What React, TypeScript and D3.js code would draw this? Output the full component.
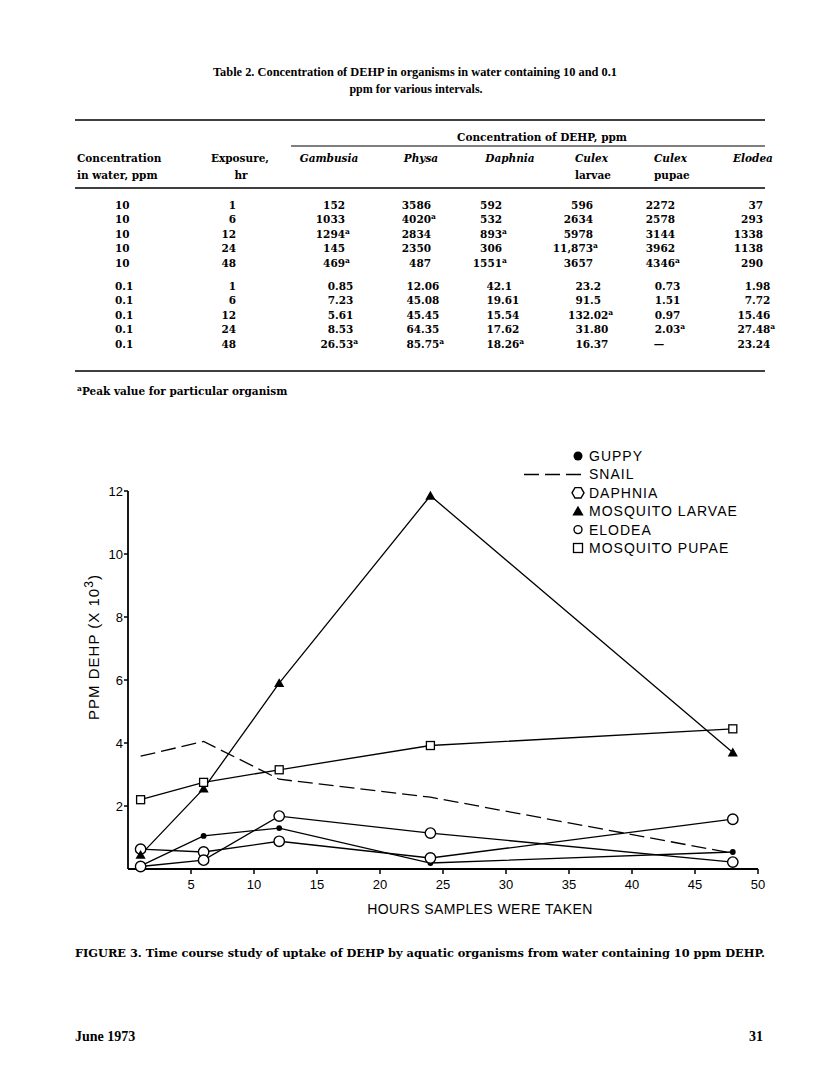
import React from "react";
import * as d3 from "d3";

// ---------------- Table data ----------------
const titleLine1 = "Table 2.  Concentration of DEHP in organisms in water containing 10 and 0.1";
const titleLine2 = "ppm for various intervals.";
const spanHeader = "Concentration of DEHP, ppm";
const leftHeads1 = ["Concentration", "Exposure,"];
const leftHeads2 = ["in water, ppm", "hr"];
const organismHeads1 = ["Gambusia", "Physa", "Daphnia", "Culex", "Culex", "Elodea"];
const organismHeads2 = ["", "", "", "larvae", "pupae", ""];
const waterConc = ["10", "0.1"];
const exposureHr = ["1", "6", "12", "24", "48"];
const gambusia10 = ["152", "1033", "1294a", "145", "469a"];
const physa10 = ["3586", "4020a", "2834", "2350", "487"];
const daphnia10 = ["592", "532", "893a", "306", "1551a"];
const culexLarvae10 = ["596", "2634", "5978", "11,873a", "3657"];
const culexPupae10 = ["2272", "2578", "3144", "3962", "4346a"];
const elodea10 = ["37", "293", "1338", "1138", "290"];
const gambusia01 = ["0.85", "7.23", "5.61", "8.53", "26.53a"];
const physa01 = ["12.06", "45.08", "45.45", "64.35", "85.75a"];
const daphnia01 = ["42.1", "19.61", "15.54", "17.62", "18.26a"];
const culexLarvae01 = ["23.2", "91.5", "132.02a", "31.80", "16.37"];
const culexPupae01 = ["0.73", "1.51", "0.97", "2.03a", "—"];
const elodea01 = ["1.98", "7.72", "15.46", "27.48a", "23.24"];
const footnoteText = "Peak value for particular organism";

// ---------------- Chart data (thousands of ppm) ----------------
const hours = [1, 6, 12, 24, 48];
const guppy = [0.1, 1.05, 1.3, 0.19, 0.54];
const snail = [3.58, 4.05, 2.85, 2.28, 0.5];
const daphnia = [0.63, 0.54, 0.88, 0.35, 1.58];
const mosquitoLarvae = [0.45, 2.55, 5.9, 11.85, 3.7];
const elodea = [0.08, 0.28, 1.68, 1.14, 0.22];
const mosquitoPupae = [2.2, 2.75, 3.15, 3.92, 4.45];
const xTickValues = [5, 10, 15, 20, 25, 30, 35, 40, 45, 50];
const yTickValues = [2, 4, 6, 8, 10, 12];
const legendLabels = ["GUPPY", "SNAIL", "DAPHNIA", "MOSQUITO LARVAE", "ELODEA", "MOSQUITO PUPAE"];
const xTitle = "HOURS SAMPLES WERE TAKEN";
const yTitle = "PPM DEHP (X 10";
const caption = "FIGURE 3. Time course study of uptake of DEHP by aquatic organisms from water containing 10 ppm DEHP.";
const footerLeft = "June 1973";
const footerRight = "31";

const serif = "'DejaVu Serif', serif";
const times = "'Liberation Serif', serif";
const sans = "'Liberation Sans', Arial, sans-serif";

function NumCell({ x, y, v }: { x: number; y: number; v: string }) {
  const sup = v.endsWith("a");
  const s = sup ? v.slice(0, -1) : v;
  if (s === "—") {
    return (
      <text x={x - 3} y={y} textAnchor="middle">
        —
      </text>
    );
  }
  const i = s.indexOf(".");
  const left = i >= 0 ? s.slice(0, i) : s;
  const right = i >= 0 ? s.slice(i) : "";
  return (
    <g>
      <text x={x} y={y} textAnchor="end">
        {left}
      </text>
      <text x={x} y={y}>
        {right}
        {sup && (
          <tspan fontSize={7.5} dy={-4}>
            a
          </tspan>
        )}
      </text>
    </g>
  );
}

function Marker({ kind, cx, cy, legend }: { kind: string; cx: number; cy: number; legend?: boolean }) {
  if (kind === "dot") return <circle cx={cx} cy={cy} r={legend ? 4.5 : 2.9} fill="#000" />;
  if (kind === "circle")
    return <circle cx={cx} cy={cy} r={legend ? 4 : 5.2} fill="#fff" stroke="#000" strokeWidth={1.4} />;
  if (kind === "hex") {
    const r = legend ? 6 : 5.2;
    if (!legend) return <circle cx={cx} cy={cy} r={r} fill="#fff" stroke="#000" strokeWidth={1.4} />;
    const pts = d3.range(6).map((k) => {
      const a = (Math.PI / 3) * k;
      return [cx + r * Math.cos(a), cy + r * Math.sin(a)];
    });
    return <polygon points={pts.map((p) => p.join(",")).join(" ")} fill="#fff" stroke="#000" strokeWidth={1.4} />;
  }
  if (kind === "tri") {
    const p = d3.symbol(d3.symbolTriangle, legend ? 55 : 45)();
    return <path d={p || ""} transform={`translate(${cx},${cy + 1})`} fill="#000" />;
  }
  if (kind === "square") {
    const s = legend ? 9 : 8;
    return <rect x={cx - s / 2} y={cy - s / 2} width={s} height={s} fill="#fff" stroke="#000" strokeWidth={1.3} />;
  }
  return null;
}

export default function App() {
  // ---------- table layout ----------
  const tableLeft = 75;
  const tableRight = 765;
  const decX10 = [345, 431, 502, 593, 675, 763];
  const decX01 = [335, 421, 501, 590, 662, 752];
  const headCenters = [329, 421, 510, 575, 654, 753];
  const headAnchors = ["middle", "middle", "middle", "start", "start", "middle"];
  const cols10 = [gambusia10, physa10, daphnia10, culexLarvae10, culexPupae10, elodea10];
  const cols01 = [gambusia01, physa01, daphnia01, culexLarvae01, culexPupae01, elodea01];
  const rowStep = 14.4;
  const block10Y = 209;
  const block01Y = 290;

  // ---------- chart ----------
  const x = d3.scaleLinear().domain([0, 50]).range([128, 758]);
  const y = d3.scaleLinear().domain([0, 12]).range([869, 491]);
  const series = [
    { name: legendLabels[0], values: guppy, marker: "dot", dash: "" },
    { name: legendLabels[1], values: snail, marker: "none", dash: "15,6" },
    { name: legendLabels[2], values: daphnia, marker: "hex", dash: "" },
    { name: legendLabels[3], values: mosquitoLarvae, marker: "tri", dash: "" },
    { name: legendLabels[4], values: elodea, marker: "circle", dash: "" },
    { name: legendLabels[5], values: mosquitoPupae, marker: "square", dash: "" },
  ];
  const line = d3
    .line<number>()
    .x((_, i) => x(hours[i]))
    .y((d) => y(d));

  const legendX = 578;
  const legendY0 = 456;
  const legendStep = 18.4;

  return (
    <svg
      width={816}
      height={1092}
      style={{ position: "absolute", left: 0, top: 0, background: "#fff" }}
      xmlns="http://www.w3.org/2000/svg"
    >
      <rect x={0} y={0} width={816} height={1092} fill="#fff" />
      {/* ---------- Table ---------- */}
      <g fontFamily={times} fontWeight="bold" fontSize={12} fill="#000">
        <text x={415} y={76} textAnchor="middle" textLength={404} lengthAdjust="spacingAndGlyphs">
          {titleLine1}
        </text>
        <text x={416} y={93} textAnchor="middle">
          {titleLine2}
        </text>
      </g>
      <g stroke="#000">
        <line x1={tableLeft} x2={tableRight} y1={120} y2={120} strokeWidth={1.6} />
        <line x1={291} x2={tableRight} y1={146} y2={146} strokeWidth={1} />
        <line x1={tableLeft} x2={tableRight} y1={188} y2={188} strokeWidth={1.6} />
        <line x1={tableLeft} x2={tableRight} y1={371} y2={371} strokeWidth={1.6} />
      </g>
      <g fontFamily={serif} fontWeight="bold" fontSize={10.5} fill="#000">
        <text x={542} y={141} textAnchor="middle">
          {spanHeader}
        </text>
        <text x={77} y={162}>{leftHeads1[0]}</text>
        <text x={77} y={179}>{leftHeads2[0]}</text>
        <text x={240} y={162} textAnchor="middle">{leftHeads1[1]}</text>
        <text x={241} y={179} textAnchor="middle">{leftHeads2[1]}</text>
        {organismHeads1.map((h, i) => (
          <text key={"h1" + i} x={headCenters[i]} y={162} textAnchor={headAnchors[i]} fontStyle="italic">
            {h}
          </text>
        ))}
        {organismHeads2.map((h, i) => (
          <text key={"h2" + i} x={headCenters[i]} y={179} textAnchor={headAnchors[i]}>
            {h}
          </text>
        ))}
        {[0, 1].map((b) => {
          const baseY = b === 0 ? block10Y : block01Y;
          const cols = b === 0 ? cols10 : cols01;
          const decX = b === 0 ? decX10 : decX01;
          return (
            <g key={"blk" + b}>
              {exposureHr.map((e, r) => (
                <g key={"r" + r}>
                  <text x={115} y={baseY + r * rowStep}>{waterConc[b]}</text>
                  <text x={236} y={baseY + r * rowStep} textAnchor="end">{e}</text>
                  {cols.map((col, c) => (
                    <NumCell key={"c" + c} x={decX[c]} y={baseY + r * rowStep} v={col[r]} />
                  ))}
                </g>
              ))}
            </g>
          );
        })}
        <text x={77} y={395}>
          <tspan fontSize={7.5} dy={-4}>a</tspan>
          <tspan dy={4}>{footnoteText}</tspan>
        </text>
      </g>

      {/* ---------- Chart ---------- */}
      <g>
        {/* axes */}
        <line x1={x(0)} x2={x(50)} y1={y(0)} y2={y(0)} stroke="#000" strokeWidth={1.8} />
        <line x1={x(0)} x2={x(0)} y1={y(0)} y2={y(12)} stroke="#000" strokeWidth={1.8} />
        {xTickValues.map((t) => (
          <g key={"xt" + t}>
            <line x1={x(t)} x2={x(t)} y1={y(0)} y2={y(0) + 5} stroke="#000" strokeWidth={1.5} />
            <text x={x(t)} y={y(0) + 20} textAnchor="middle" fontFamily={sans} fontSize={13}>
              {t}
            </text>
          </g>
        ))}
        {yTickValues.map((t) => (
          <g key={"yt" + t}>
            <line x1={x(0) - 4} x2={x(0)} y1={y(t)} y2={y(t)} stroke="#000" strokeWidth={1.5} />
            <text x={x(0) - 5} y={y(t) + 5} textAnchor="end" fontFamily={sans} fontSize={13}>
              {t}
            </text>
          </g>
        ))}
        <text x={480} y={914} textAnchor="middle" fontFamily={sans} fontSize={14} letterSpacing={0.4}>
          {xTitle}
        </text>
        <text
          transform="translate(99,647) rotate(-90)"
          textAnchor="middle"
          fontFamily={sans}
          fontSize={15}
          letterSpacing={1}
        >
          {yTitle}
          <tspan fontSize={12} dy={-6}>3</tspan>
          <tspan dy={6}>)</tspan>
        </text>

        {/* lines */}
        {series.map((s) => (
          <path
            key={"l" + s.name}
            d={line(s.values) || ""}
            fill="none"
            stroke="#000"
            strokeWidth={1.3}
            strokeDasharray={s.dash || undefined}
          />
        ))}
        {/* markers */}
        {series.map((s) =>
          s.values.map((v, i) => (
            <Marker key={s.name + i} kind={s.marker} cx={x(hours[i])} cy={y(v)} />
          ))
        )}

        {/* legend */}
        {series.map((s, i) => {
          const ly = legendY0 + i * legendStep;
          return (
            <g key={"lg" + s.name}>
              {s.marker === "none" ? (
                <line x1={524} x2={583} y1={ly} y2={ly} stroke="#000" strokeWidth={1.5} strokeDasharray="15,6" />
              ) : (
                <Marker kind={s.marker} cx={legendX} cy={ly} legend />
              )}
              <text x={589} y={ly + 5} fontFamily={sans} fontSize={14} letterSpacing={1}>
                {s.name}
              </text>
            </g>
          );
        })}
      </g>

      {/* ---------- Caption & footer ---------- */}
      <text
        x={75}
        y={957}
        fontFamily={serif}
        fontWeight="bold"
        fontSize={11}
        textLength={690}
        lengthAdjust="spacingAndGlyphs"
      >
        {caption}
      </text>
      <text x={75} y={1041} fontFamily={times} fontWeight="bold" fontSize={14}>
        {footerLeft}
      </text>
      <text x={763} y={1041} textAnchor="end" fontFamily={times} fontWeight="bold" fontSize={14}>
        {footerRight}
      </text>
    </svg>
  );
}
